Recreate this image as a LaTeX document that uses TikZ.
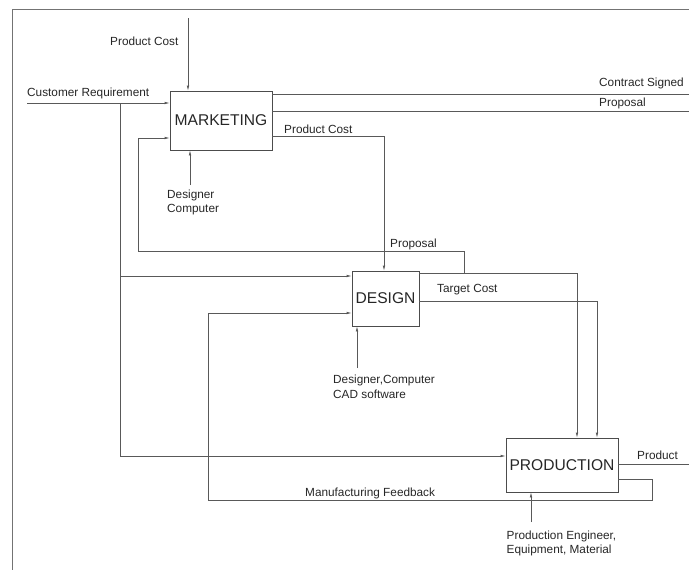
\documentclass[tikz,border=0pt]{standalone}
\usepackage{fontspec}
\setmainfont{Liberation Sans}
\usetikzlibrary{arrows.meta,positioning}

\begin{document}
\begin{tikzpicture}[x=1pt,y=-1pt,
    box/.style={draw=black!70,line width=0.7pt,text=black!85,inner sep=0pt,font=\fontsize{15.6}{18}\selectfont},
    lbl/.style={anchor=west,inner sep=0pt,align=left,text=black!85,font=\fontsize{11.8}{14.8}\selectfont},
    line/.style={draw=black!65,line width=0.7pt},
    arr/.style={line,-{Latex[length=5pt,width=2.6pt]}},
    frame/.style={draw=black!55,line width=0.8pt}]
    \useasboundingbox (0,0) rectangle (689,570);
    \draw[frame] (12,570) -- (12,9) -- (689,9);

    \node[box,minimum width=102pt,minimum height=59pt] (mkt) at (221,120.5) {MARKETING};
    \node[box,minimum width=67pt,minimum height=55pt] (dsg) at (385.5,298.5) {DESIGN};
    \node[box,minimum width=112pt,minimum height=54pt] (prd) at (562,465) {PRODUCTION};

    % label
    \node[lbl] (lblpc1) at (110,41) {Product Cost};
    \node[lbl] (lblcr) at (27,93) {Customer Requirement};
    \node[lbl] (lbldc) at (167,202.5) {Designer\\Computer};
    \node[lbl] (lblpc2) at (284,129) {Product Cost};
    \node[lbl] (lblcs) at (599,83.5) {Contract Signed};
    \node[lbl] (lblpr1) at (599,103.5) {Proposal};
    \node[lbl] (lblpr2) at (390,244) {Proposal};
    \node[lbl] (lbltc) at (437,290) {Target Cost};
    \node[lbl] (lblcad) at (333,386.5) {Designer,Computer\\CAD software};
    \node[lbl] (lblmf) at (305,493) {Manufacturing Feedback};
    \node[lbl] (lblpd) at (637,455) {Product};
    \node[lbl] (lblpe) at (506.5,543.5) {Production Engineer,\\Equipment, Material};

    \coordinate (pcin) at (188,18);
    \coordinate (crin) at (27,103);
    \coordinate (crA) at (120,103);
    \coordinate (crB) at (120,276);
    \coordinate (crC) at (120,456);
    \coordinate (csout) at (689,94);
    \coordinate (prout) at (689,111);
    \coordinate (pcA) at (384,136);
    \coordinate (dcin) at (190,185);
    \coordinate (ppD) at (577,273);
    \coordinate (ppB) at (464,251);
    \coordinate (ppC) at (138,138);
    \coordinate (tcA) at (597,301);
    \coordinate (cadin) at (357,368);
    \coordinate (pout) at (689,464);
    \coordinate (fbA) at (652,479);
    \coordinate (fbB) at (208,500);
    \coordinate (fbC) at (208,313);
    \coordinate (mein) at (531,522);

    % marketing
    \draw[arr] (pcin) -- (pcin |- mkt.north);
    \draw[arr] (crin) -- (crin -| mkt.west);
    \draw[arr] (dcin) -- (dcin |- mkt.south);
    \draw[line] (csout -| mkt.east) -- (csout);
    \draw[line] (prout -| mkt.east) -- (prout);
    \draw[arr] (pcA -| mkt.east) -- (pcA) -- (pcA |- dsg.north);

    % design
    \draw[line] (crA) -- (crC);
    \draw[arr] (crB) -- (crB -| dsg.west);
    \draw[arr] (cadin) -- (cadin |- dsg.south);
    \draw[arr] (ppD -| dsg.east) -- (ppD) -- (ppD |- prd.north);
    \draw[arr] (ppB |- ppD) -- (ppB) -| (ppC) -- (ppC -| mkt.west);
    \draw[arr] (tcA -| dsg.east) -- (tcA) -- (tcA |- prd.north);

    % production
    \draw[arr] (crC) -- (crC -| prd.west);
    \draw[arr] (mein) -- (mein |- prd.south);
    \draw[line] (pout -| prd.east) -- (pout);
    \draw[arr] (fbA -| prd.east) -- (fbA) |- (fbB) -- (fbC) -- (fbC -| dsg.west);
\end{tikzpicture}
\end{document}
